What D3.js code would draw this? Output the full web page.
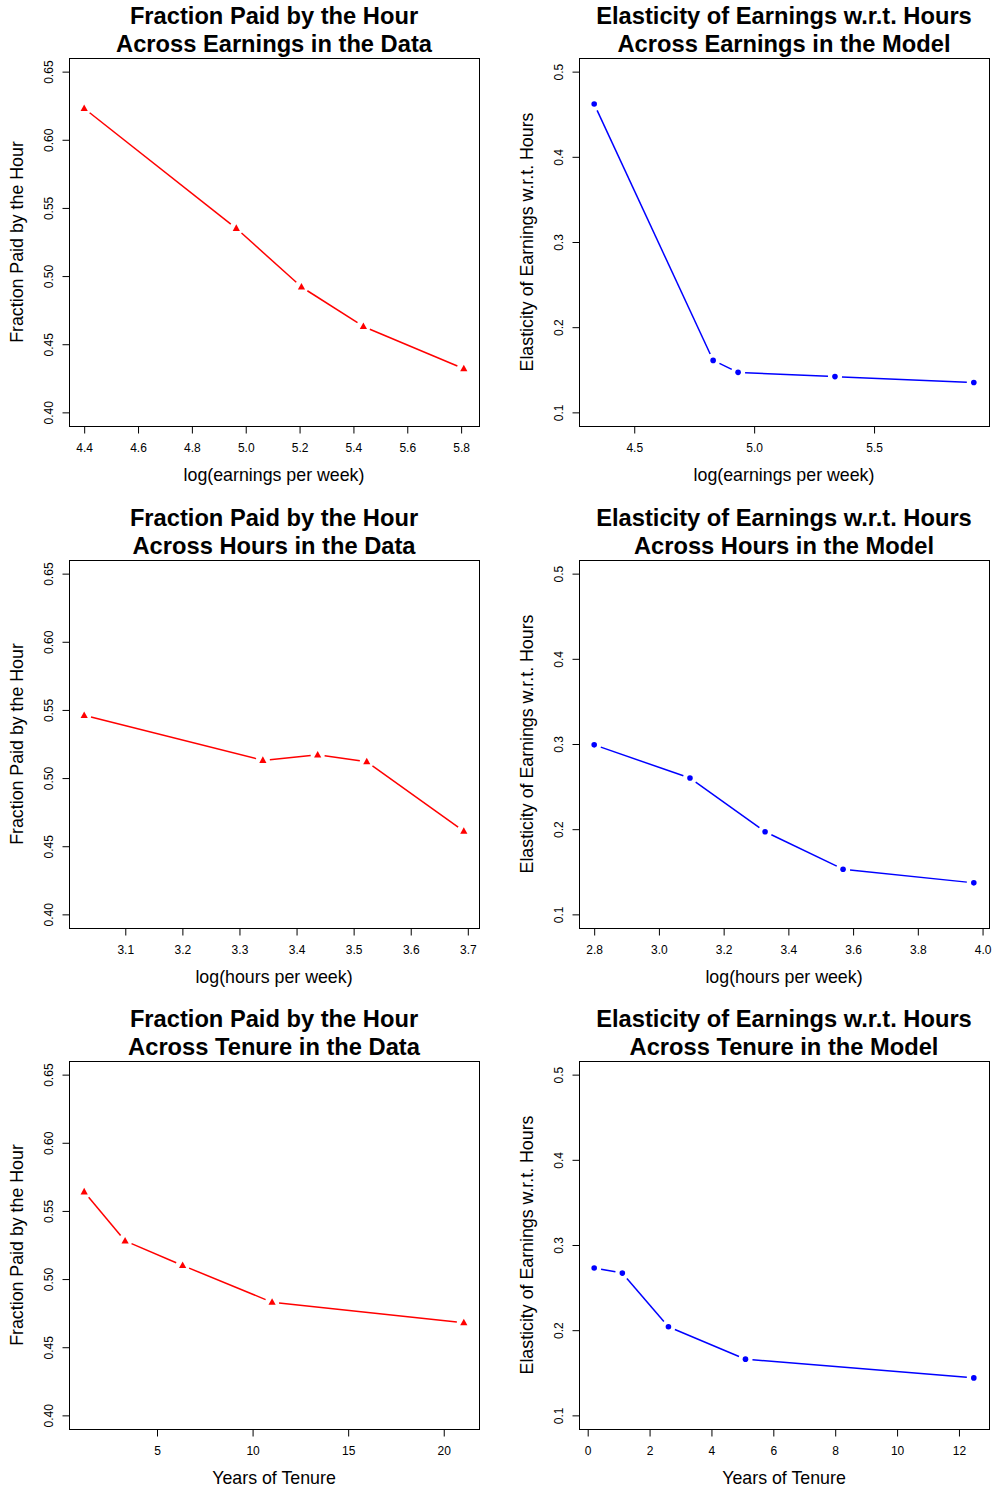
<!DOCTYPE html>
<html><head><meta charset="utf-8">
<script src="https://cdn.jsdelivr.net/npm/d3@7"></script>
<style>
body{margin:0;background:#fff;}
svg{display:block;font-family:"Liberation Sans",Arial,Helvetica,sans-serif;}
</style></head>
<body>
<svg id="chart" width="995" height="1489"></svg>
<script>
// ---- data ----
const earnX_data   = [4.40, 4.965, 5.207, 5.437, 5.81];
const fracEarn     = [0.623, 0.535, 0.492, 0.463, 0.432];
const earnX_model  = [4.333, 4.829, 4.933, 5.337, 5.916];
const elasEarn     = [0.462, 0.161, 0.147, 0.142, 0.135];
const hoursX_data  = [3.028, 3.341, 3.437, 3.523, 3.693];
const fracHours    = [0.546, 0.513, 0.517, 0.512, 0.461];
const hoursX_model = [2.80, 3.096, 3.328, 3.569, 3.973];
const elasHours    = [0.299, 0.260, 0.197, 0.153, 0.137];
const tenureX_data = [1.19, 3.33, 6.34, 11.02, 21.05];
const fracTenure   = [0.564, 0.528, 0.510, 0.483, 0.468];
const tenureX_model= [0.21, 1.12, 2.61, 5.10, 12.48];
const elasTenure   = [0.273, 0.267, 0.204, 0.166, 0.144];

// ---- tick labels ----
const fracTicks = [0.40, 0.45, 0.50, 0.55, 0.60, 0.65];
const elasTicks = [0.1, 0.2, 0.3, 0.4, 0.5];
const earnDataTicks  = [4.4, 4.6, 4.8, 5.0, 5.2, 5.4, 5.6, 5.8];
const earnModelTicks = [4.5, 5.0, 5.5];
const hoursDataTicks = [3.1, 3.2, 3.3, 3.4, 3.5, 3.6, 3.7];
const hoursModelTicks= [2.8, 3.0, 3.2, 3.4, 3.6, 3.8, 4.0];
const tenureDataTicks  = [5, 10, 15, 20];
const tenureModelTicks = [0, 2, 4, 6, 8, 10, 12];

const fracLim = [0.40, 0.65];
const elasLim = [0.1, 0.5];

const panels = [
  {col:0,row:0,title:["Fraction Paid by the Hour","Across Earnings in the Data"],xl:"log(earnings per week)",yl:"Fraction Paid by the Hour",
   x:earnX_data,y:fracEarn,xt:earnDataTicks,xf:d3.format(".1f"),yt:fracTicks,yf:d3.format(".2f"),ylim:fracLim,color:"#ff0000",shape:"tri"},
  {col:1,row:0,title:["Elasticity of Earnings w.r.t. Hours","Across Earnings in the Model"],xl:"log(earnings per week)",yl:"Elasticity of Earnings w.r.t. Hours",
   x:earnX_model,y:elasEarn,xt:earnModelTicks,xf:d3.format(".1f"),yt:elasTicks,yf:d3.format(".1f"),ylim:elasLim,color:"#0000ff",shape:"circ"},
  {col:0,row:1,title:["Fraction Paid by the Hour","Across Hours in the Data"],xl:"log(hours per week)",yl:"Fraction Paid by the Hour",
   x:hoursX_data,y:fracHours,xt:hoursDataTicks,xf:d3.format(".1f"),yt:fracTicks,yf:d3.format(".2f"),ylim:fracLim,color:"#ff0000",shape:"tri"},
  {col:1,row:1,title:["Elasticity of Earnings w.r.t. Hours","Across Hours in the Model"],xl:"log(hours per week)",yl:"Elasticity of Earnings w.r.t. Hours",
   x:hoursX_model,y:elasHours,xt:hoursModelTicks,xf:d3.format(".1f"),yt:elasTicks,yf:d3.format(".1f"),ylim:elasLim,color:"#0000ff",shape:"circ"},
  {col:0,row:2,title:["Fraction Paid by the Hour","Across Tenure in the Data"],xl:"Years of Tenure",yl:"Fraction Paid by the Hour",
   x:tenureX_data,y:fracTenure,xt:tenureDataTicks,xf:d3.format("d"),yt:fracTicks,yf:d3.format(".2f"),ylim:fracLim,color:"#ff0000",shape:"tri"},
  {col:1,row:2,title:["Elasticity of Earnings w.r.t. Hours","Across Tenure in the Model"],xl:"Years of Tenure",yl:"Elasticity of Earnings w.r.t. Hours",
   x:tenureX_model,y:elasTenure,xt:tenureModelTicks,xf:d3.format("d"),yt:elasTicks,yf:d3.format(".1f"),ylim:elasLim,color:"#0000ff",shape:"circ"}
];

const colLeft = [69, 579], boxW = 410;
const rowTop = [58, 560, 1061], boxH = 368;

function pad(ext){const r=ext[1]-ext[0];return [ext[0]-0.04*r, ext[1]+0.04*r];}

const svg = d3.select("#chart");

panels.forEach(p=>{
  const L = colLeft[p.col], T = rowTop[p.row], R = L+boxW, B = T+boxH;
  const xs = d3.scaleLinear().domain(pad(d3.extent(p.x))).range([L,R]);
  const ys = d3.scaleLinear().domain(pad(p.ylim)).range([B,T]);
  const g = svg.append("g");

  // box
  g.append("rect").attr("x",L+0.5).attr("y",T+0.5).attr("width",boxW).attr("height",boxH)
    .attr("fill","none").attr("stroke","#000").attr("stroke-width",1);

  // x axis
  const xa = g.append("g").attr("transform",`translate(0,${B+0.5})`)
    .call(d3.axisBottom(xs).tickValues(p.xt).tickFormat(p.xf).tickSize(7).tickPadding(10));
  xa.select(".domain").remove();
  xa.selectAll("line").attr("stroke","#000");
  xa.selectAll("text").attr("font-size",12).attr("fill","#000").attr("font-family","Liberation Sans, Arial, sans-serif");

  // y axis
  const ya = g.append("g").attr("transform",`translate(${L+0.5},0)`)
    .call(d3.axisLeft(ys).tickValues(p.yt).tickFormat(p.yf).tickSize(7).tickPadding(0));
  ya.select(".domain").remove();
  ya.selectAll("line").attr("stroke","#000");
  ya.selectAll("text").attr("font-size",12).attr("fill","#000").attr("font-family","Liberation Sans, Arial, sans-serif")
    .attr("text-anchor","middle").attr("x",0).attr("dy",0)
    .attr("transform","translate(-17,0) rotate(-90)")
    .attr("dominant-baseline","auto");

  // titles
  const cx = (L+R)/2;
  g.append("text").attr("x",cx).attr("y",T-34).attr("text-anchor","middle")
    .attr("font-size",23.7).attr("font-weight","bold").text(p.title[0]);
  g.append("text").attr("x",cx).attr("y",T-6).attr("text-anchor","middle")
    .attr("font-size",23.7).attr("font-weight","bold").text(p.title[1]);

  // axis labels
  g.append("text").attr("x",cx).attr("y",B+55).attr("text-anchor","middle")
    .attr("font-size",17.8).text(p.xl);
  g.append("text").attr("transform",`translate(${L-46},${(T+B)/2}) rotate(-90)`)
    .attr("text-anchor","middle").attr("font-size",17.8).text(p.yl);

  // lines (type "b": segments with gaps around points)
  const pts = p.x.map((v,i)=>[xs(v), ys(p.y[i])]);
  const gap = 7;
  for(let i=0;i<pts.length-1;i++){
    const [x1,y1]=pts[i],[x2,y2]=pts[i+1];
    const dx=x2-x1, dy=y2-y1, len=Math.hypot(dx,dy);
    if(len<=2*gap) continue;
    const ux=dx/len, uy=dy/len;
    g.append("line").attr("x1",x1+ux*gap).attr("y1",y1+uy*gap)
      .attr("x2",x2-ux*gap).attr("y2",y2-uy*gap)
      .attr("stroke",p.color).attr("stroke-width",1.5);
  }
  // markers
  if(p.shape==="tri"){
    g.selectAll(".m").data(pts).enter().append("path")
      .attr("d",d=>`M${d[0]},${d[1]-4}L${d[0]+3.6},${d[1]+2.6}L${d[0]-3.6},${d[1]+2.6}Z`)
      .attr("fill",p.color);
  } else {
    g.selectAll(".m").data(pts).enter().append("circle")
      .attr("cx",d=>d[0]).attr("cy",d=>d[1]).attr("r",2.8).attr("fill",p.color);
  }
});
</script>
</body></html>
